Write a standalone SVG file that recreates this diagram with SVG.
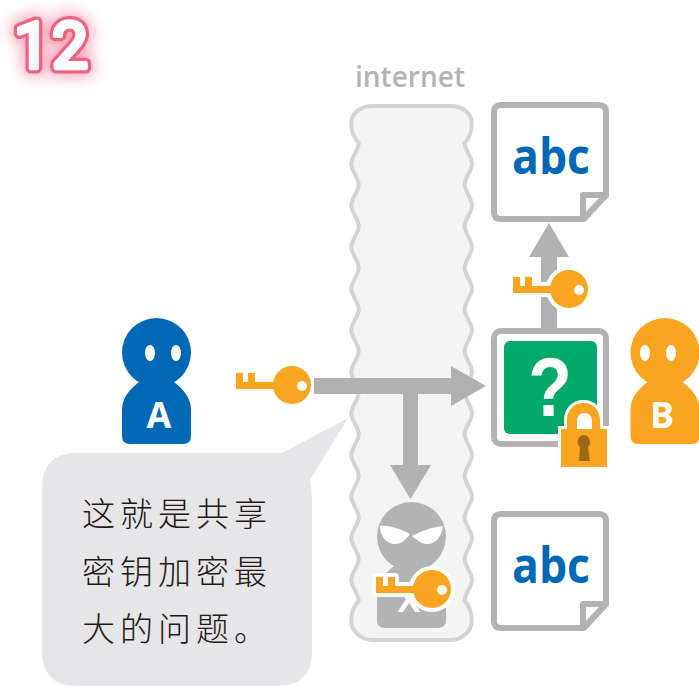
<svg xmlns="http://www.w3.org/2000/svg" width="699" height="686" viewBox="0 0 699 686">
<style>
.doc{fill:#fff;stroke:#b3b3b3;stroke-width:6;stroke-linejoin:round}
.abc{font-family:"Open Sans","Noto Sans",sans-serif;font-weight:700;font-size:50px;fill:#0068b5}
.ppl{font-family:"Open Sans","Liberation Sans",sans-serif;font-weight:700;font-size:36px;fill:#fff;text-anchor:middle}
.say{font-family:"Noto Sans CJK SC","Noto Sans",sans-serif;font-weight:300;font-size:33px;letter-spacing:5px;fill:#231815}
.num{font-family:Roboto,"Liberation Sans",sans-serif;font-weight:400;font-size:64px;stroke-linejoin:round;stroke-linecap:round}
.arrow{fill:#b1b1b1}
.orange{fill:#f9a51f}
.halo{fill:#fff;stroke:#fff;stroke-width:8;stroke-linejoin:round}
</style>
<defs>
<filter id="glow" x="-60%" y="-60%" width="220%" height="220%"><feGaussianBlur stdDeviation="8"/></filter>
<path id="keyShape" d="M236,373H243V382H248V373H255V382H275V389H236Z"/>
<g id="key"><use href="#keyShape"/><circle cx="292" cy="385" r="19"/></g>
<path id="docShape" d="M501,105H599Q606,105 606,112V195L584,219H501Q494,219 494,212V112Q494,105 501,105Z"/>
<path id="foldShape" d="M606,195H583V219Z"/>
<path id="bodyShape" d="M17,64C7,72 0,80 0,92V118Q0,126 8,126H61Q69,126 69,118V92C69,80 62,72 52,64Z"/>
</defs>

<g id="title">
<text class="num" y="67.500" fill="#f0607f" stroke="#f0607f" stroke-width="16" opacity="0.6" filter="url(#glow)"><tspan x="14">1</tspan><tspan x="52">2</tspan></text>
<text class="num" y="67.500" fill="#f0607f" stroke="#f0607f" stroke-width="11"><tspan x="14">1</tspan><tspan x="52">2</tspan></text>
<text class="num" y="67.500" fill="#fff" stroke="#fff" stroke-width="4.500"><tspan x="14">1</tspan><tspan x="52">2</tspan></text>
</g>

<g id="internet">
<path d="M358.700,143C352,136 351,129 351.300,122C352,112 362,106 372,106H451C461,106 471,112 471.700,122C472,129 471,136 464.700,143
c0,7 7.300,13.800 7.300,20.800c0,7 -7.300,13.800 -7.300,20.800c0,7 7.300,13.800 7.300,20.800c0,7 -7.300,13.800 -7.300,20.800c0,7 7.300,13.800 7.300,20.800c0,7 -7.300,13.800 -7.300,20.800c0,7 7.300,13.800 7.300,20.800c0,7 -7.300,13.800 -7.300,20.800c0,7 7.300,13.800 7.300,20.800c0,7 -7.300,13.800 -7.300,20.800c0,7 7.300,13.800 7.300,20.800c0,7 -7.300,13.800 -7.300,20.800c0,7 7.300,13.800 7.300,20.800c0,7 -7.300,13.800 -7.300,20.800c0,7 7.300,13.800 7.300,20.800c0,7 -7.300,13.800 -7.300,20.800c0,7 7.300,13.800 7.300,20.800c0,7 -7.300,13.800 -7.300,20.800c0,7 7.300,13.800 7.300,20.800c0,7 -7.300,13.800 -7.300,20.800c0,7 7.300,13.800 7.300,20.800c0,7 -7.300,13.800 -7.300,20.800
C471,608 472,615 471.700,622C471,632 461,640 451,640H372C362,640 352,632 351.300,622C351,615 352,608 358.700,600.600
c0,-7 -7.400,-13.800 -7.400,-20.800c0,-7 7.400,-13.800 7.400,-20.800c0,-7 -7.400,-13.800 -7.400,-20.800c0,-7 7.400,-13.800 7.400,-20.800c0,-7 -7.400,-13.800 -7.400,-20.800c0,-7 7.400,-13.800 7.400,-20.800c0,-7 -7.400,-13.800 -7.400,-20.800c0,-7 7.400,-13.800 7.400,-20.800c0,-7 -7.400,-13.800 -7.400,-20.800c0,-7 7.400,-13.800 7.400,-20.800c0,-7 -7.400,-13.800 -7.400,-20.800c0,-7 7.400,-13.800 7.400,-20.800c0,-7 -7.400,-13.800 -7.400,-20.800c0,-7 7.400,-13.800 7.400,-20.800c0,-7 -7.400,-13.800 -7.400,-20.800c0,-7 7.400,-13.800 7.400,-20.800c0,-7 -7.400,-13.800 -7.400,-20.800c0,-7 7.400,-13.800 7.400,-20.800c0,-7 -7.400,-13.800 -7.400,-20.800c0,-7 7.400,-13.800 7.400,-20.800c0,-7 -7.400,-13.800 -7.400,-20.800c0,-7 7.400,-13.800 7.400,-20.800Z" fill="#f4f4f4" stroke="#d3d3d3" stroke-width="4"/>
<text x="355" y="87" textLength="110" lengthAdjust="spacingAndGlyphs" font-family="Open Sans, Noto Sans, sans-serif" font-weight="600" font-size="28" fill="#b3b3b3">internet</text>
</g>

<g id="bubble">
<path d="M77,453H282L348,418L310,480Q312,490 312,500V651Q312,686 277,686H77Q42,686 42,651V488Q42,453 77,453Z" fill="#e6e5e7"/>
<text class="say" x="82" y="526">这就是共享</text>
<text class="say" x="82" y="584">密钥加密最</text>
<text class="say" x="82" y="641">大的问题。</text>
</g>

<g id="connectors">
<path class="arrow" d="M314,378H451V366L486,386L451,406V394H418V465H431L410.500,499L390,465H403V394H314Z"/>
<path class="arrow" d="M541,331V257H529L549,223L569,257H557V331Z"/>
</g>

<g id="person-a">
<circle cx="156.500" cy="352.500" r="34.500" fill="#0068b5"/>
<use href="#bodyShape" x="122" y="318" fill="#0068b5"/>
<ellipse cx="150" cy="353" rx="5" ry="8" fill="#fff"/>
<ellipse cx="176" cy="353" rx="5" ry="8" fill="#fff"/>
<text class="ppl" x="159" y="428">A</text>
</g>

<g id="person-b">
<circle cx="665" cy="352.500" r="34.500" fill="#f9a51f"/>
<use href="#bodyShape" x="630.500" y="318" fill="#f9a51f"/>
<ellipse cx="645" cy="353" rx="5" ry="8" fill="#fff"/>
<ellipse cx="671" cy="353" rx="5" ry="8" fill="#fff"/>
<text class="ppl" x="662" y="428">B</text>
</g>

<g id="key-a">
<use href="#key" class="orange"/>
<circle cx="302" cy="386" r="5" fill="#fff"/>
</g>

<g id="doc-top">
<use href="#docShape" class="doc"/>
<use href="#foldShape" class="doc"/>
<text class="abc" x="512" y="174" textLength="78" lengthAdjust="spacingAndGlyphs">abc</text>
</g>

<g id="key-top" transform="translate(277,-96)">
<use href="#key" class="halo"/>
<use href="#key" class="orange"/>
<circle cx="302" cy="386" r="5" fill="#fff"/>
</g>

<g id="doc-locked">
<rect x="494" y="331" width="112" height="113" rx="7" fill="#fff" stroke="#b3b3b3" stroke-width="6"/>
<rect x="504" y="341" width="93" height="93" rx="6" fill="#00a968"/>
<text transform="translate(550,416) scale(0.85,1)" text-anchor="middle" font-family="Liberation Sans, sans-serif" font-weight="700" font-size="84" fill="#fff">?</text>
</g>

<g id="lock">
<path d="M558,467V426H564V421C564,408 572,400 583.500,400C595,400 603,408 603,421V426H610V470H558Z" fill="#fff"/>
<path d="M567,430V420C567,410 574,403 583.500,403C593,403 600,410 600,420V430H592V421C592,416 589,413 584.500,413C580,413 577,416 577,421V430Z" fill="#f9a51f"/>
<rect x="561" y="429" width="46" height="38" fill="#f9a51f"/>
<path d="M583,435A7,7 0 0 1 588,447L590,461H579L580,447A7,7 0 0 1 583,435Z" fill="#9c6a17"/>
</g>

<g id="thief">
<circle cx="411.500" cy="536.500" r="34.500" fill="#b3b3b3"/>
<use href="#bodyShape" x="377" y="502" fill="#b3b3b3"/>
<path d="M380,526C390,525 400,529 410,534C405,541 400,544 395,544C386,544 380,536 380,526Z" fill="#fff"/>
<path d="M443,526C433,527 423,530 412,536C418,541 422,544 427,544C436,544 442,536 443,526Z" fill="#fff"/>
<text x="409" y="612" text-anchor="middle" font-family="Liberation Sans, sans-serif" font-weight="700" font-size="35" fill="#fff">X</text>
</g>

<g id="key-thief" transform="translate(140,204)">
<use href="#key" class="halo"/>
<use href="#key" class="orange"/>
<circle cx="302" cy="386" r="5" fill="#fff"/>
</g>

<g id="doc-bottom" transform="translate(0,409)">
<use href="#docShape" class="doc"/>
<use href="#foldShape" class="doc"/>
<text class="abc" x="512" y="174" textLength="78" lengthAdjust="spacingAndGlyphs">abc</text>
</g>
</svg>
